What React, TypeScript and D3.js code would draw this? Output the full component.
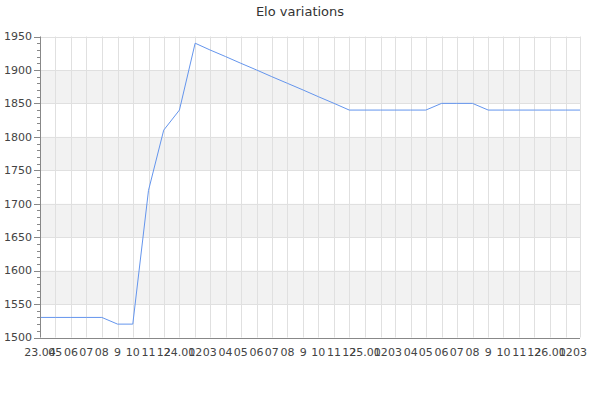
import React from "react";
import * as d3 from "d3";

const months: string[] = [
  "2023-04","2023-05","2023-06","2023-07","2023-08","2023-09","2023-10","2023-11","2023-12",
  "2024-01","2024-02","2024-03","2024-04","2024-05","2024-06","2024-07","2024-08","2024-09","2024-10","2024-11","2024-12",
  "2025-01","2025-02","2025-03","2025-04","2025-05","2025-06","2025-07","2025-08","2025-09","2025-10","2025-11","2025-12",
  "2026-01","2026-02","2026-03",
];
const elo: number[] = [
  1530,1530,1530,1530,1530,1520,1520,1720,1810,
  1840,1940,1930,1920,1910,1900,1890,1880,1870,1860,1850,1840,
  1840,1840,1840,1840,1840,1850,1850,1850,1840,1840,1840,1840,
  1840,1840,1840,
];
const tickLabels: string[] = [
  "23.04","05","06","07","08","9","10","11","12",
  "24.01","02","03","04","05","06","07","08","9","10","11","12",
  "25.01","02","03","04","05","06","07","08","9","10","11","12",
  "26.01","02","03",
];
const yTicks: number[] = [1500,1550,1600,1650,1700,1750,1800,1850,1900,1950];
const title = "Elo variations";

const W = 600, H = 400;
const L = 40, R = 580, T = 36.5, B = 337.5;
const FONT = "DejaVu Sans, sans-serif";

export default function App() {
  const parse = d3.timeParse("%Y-%m");
  const dates = months.map((m) => parse(m) as Date);
  const x = d3.scaleTime().domain([dates[0], dates[dates.length - 1]]).range([L, R]);
  const y = d3.scaleLinear().domain([1500, 1950]).range([B, T]);
  const line = d3.line<number>().x((_, i) => x(dates[i])).y((v) => y(v));
  const minor = d3.range(1500, 1951, 10);

  return (
    <svg width={W} height={H} style={{ position: "absolute", left: 0, top: 0 }} fontFamily={FONT}>
      <rect x={0} y={0} width={W} height={H} fill="#fff" />
      <text x={W / 2} y={16} textAnchor="middle" fontSize={13} fill="#333">{title}</text>
      {yTicks.slice(0, -1).map((v, i) =>
        i % 2 === 1 ? (
          <rect key={"b" + v} x={L} y={y(v + 50)} width={R - L} height={y(v) - y(v + 50)} fill="#f2f2f2" />
        ) : null
      )}
      {yTicks.map((v) => (
        <line key={"hg" + v} x1={L} x2={R} y1={Math.round(y(v)) + 0.5} y2={Math.round(y(v)) + 0.5} stroke="#e0e0e0" />
      ))}
      {dates.map((d, i) => (
        <line key={"vg" + i} x1={Math.round(x(d)) + 0.5} x2={Math.round(x(d)) + 0.5} y1={T} y2={B} stroke="#e0e0e0" />
      ))}
      <path d={line(elo) || ""} fill="none" stroke="#6495ed" strokeWidth={1} />
      <line x1={L + 0.5} x2={L + 0.5} y1={T} y2={B} stroke="#888" />
      <line x1={L} x2={R} y1={Math.round(B) + 0.5} y2={Math.round(B) + 0.5} stroke="#888" />
      {minor.map((v) => (
        <line key={"mt" + v} x1={v % 50 === 0 ? L - 6 : L - 3} x2={L} y1={Math.round(y(v)) + 0.5} y2={Math.round(y(v)) + 0.5} stroke="#888" />
      ))}
      {yTicks.map((v) => (
        <text key={"yl" + v} x={L - 8} y={y(v)} dy="0.35em" textAnchor="end" fontSize={11} fill="#444">{v}</text>
      ))}
      {dates.map((d, i) => (
        <text key={"xl" + i} x={x(d)} y={B + 18} textAnchor="middle" fontSize={11} fill="#444">{tickLabels[i]}</text>
      ))}
    </svg>
  );
}
